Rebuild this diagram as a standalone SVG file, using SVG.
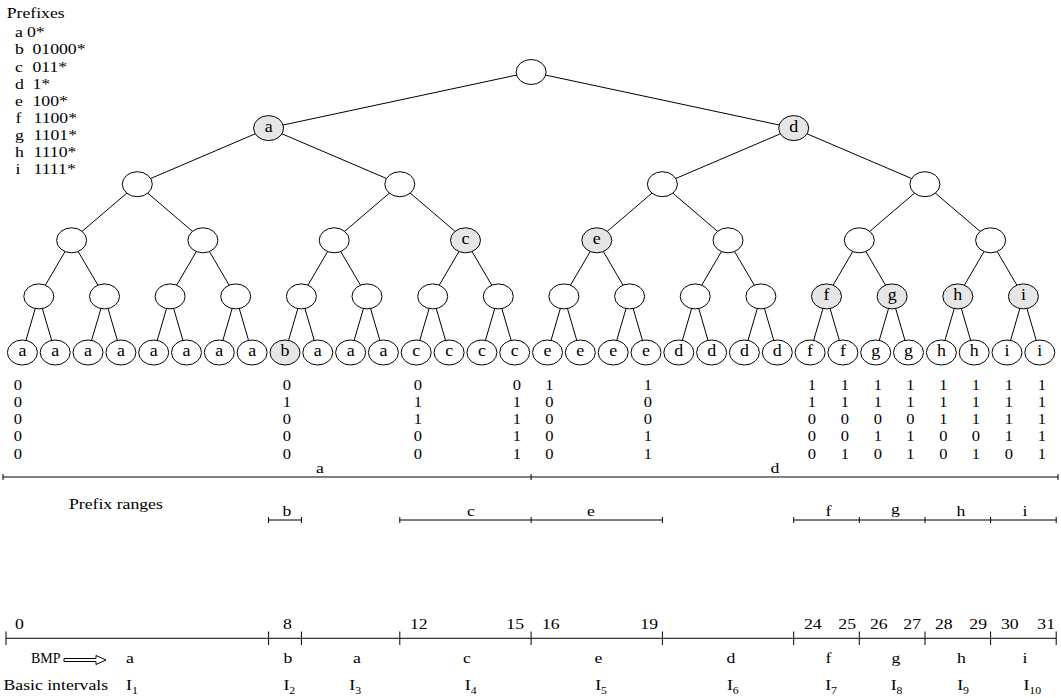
<svg xmlns="http://www.w3.org/2000/svg" width="1061" height="698" viewBox="0 0 1061 698">
<style>
.t{font-family:"Liberation Serif","Times New Roman",serif;font-size:15px;fill:#000}
.m{text-anchor:middle}
.e{text-anchor:end}
.b{font-size:14px}
.nl{font-size:16px}
.sub{font-size:10px}
.nd{fill:#fff;stroke:#000;stroke-width:1}
.nf{fill:#e6e6e6;stroke:#000;stroke-width:1}
.ln{stroke:#000;stroke-width:1;fill:none}
</style>
<rect width="1061" height="698" fill="#fff"/>

<g id="prefix-list">
<text class="t" transform="translate(6.7 18.3) scale(1.18 1)">Prefixes</text>
<text class="t" transform="translate(15 37.3) scale(1.18 1)">a</text><text class="t" transform="translate(27 37.3) scale(1.18 1)">0*</text>
<text class="t" transform="translate(15 54.4) scale(1.18 1)">b</text><text class="t" transform="translate(32.5 54.4) scale(1.18 1)">01000*</text>
<text class="t" transform="translate(15 71.5) scale(1.18 1)">c</text><text class="t" transform="translate(32.5 71.5) scale(1.18 1)">011*</text>
<text class="t" transform="translate(15 88.6) scale(1.18 1)">d</text><text class="t" transform="translate(32.5 88.6) scale(1.18 1)">1*</text>
<text class="t" transform="translate(15 105.7) scale(1.18 1)">e</text><text class="t" transform="translate(32.5 105.7) scale(1.18 1)">100*</text>
<text class="t" transform="translate(15.5 122.8) scale(1.18 1)">f</text><text class="t" transform="translate(33.5 122.8) scale(1.18 1)">1100*</text>
<text class="t" transform="translate(15 139.9) scale(1.18 1)">g</text><text class="t" transform="translate(33.5 139.9) scale(1.18 1)">1101*</text>
<text class="t" transform="translate(15 157) scale(1.18 1)">h</text><text class="t" transform="translate(33.5 157) scale(1.18 1)">1110*</text>
<text class="t" transform="translate(15.5 174.1) scale(1.18 1)">i</text><text class="t" transform="translate(33.5 174.1) scale(1.18 1)">1111*</text>
</g>

<g id="connectors" class="ln">
<line x1="531.1" y1="72" x2="268.6" y2="128.1"/>
<line x1="531.1" y1="72" x2="793.7" y2="128.1"/>
<line x1="268.6" y1="128.1" x2="137.3" y2="184.2"/>
<line x1="268.6" y1="128.1" x2="399.8" y2="184.2"/>
<line x1="793.7" y1="128.1" x2="662.4" y2="184.2"/>
<line x1="793.7" y1="128.1" x2="924.9" y2="184.2"/>
<line x1="137.3" y1="184.2" x2="71.6" y2="240.3"/>
<line x1="137.3" y1="184.2" x2="202.9" y2="240.3"/>
<line x1="399.8" y1="184.2" x2="334.2" y2="240.3"/>
<line x1="399.8" y1="184.2" x2="465.5" y2="240.3"/>
<line x1="662.4" y1="184.2" x2="596.8" y2="240.3"/>
<line x1="662.4" y1="184.2" x2="728" y2="240.3"/>
<line x1="924.9" y1="184.2" x2="859.3" y2="240.3"/>
<line x1="924.9" y1="184.2" x2="990.6" y2="240.3"/>
<line x1="71.6" y1="240.3" x2="38.8" y2="296.4"/>
<line x1="71.6" y1="240.3" x2="104.5" y2="296.4"/>
<line x1="202.9" y1="240.3" x2="170.1" y2="296.4"/>
<line x1="202.9" y1="240.3" x2="235.7" y2="296.4"/>
<line x1="334.2" y1="240.3" x2="301.4" y2="296.4"/>
<line x1="334.2" y1="240.3" x2="367" y2="296.4"/>
<line x1="465.5" y1="240.3" x2="432.7" y2="296.4"/>
<line x1="465.5" y1="240.3" x2="498.3" y2="296.4"/>
<line x1="596.8" y1="240.3" x2="563.9" y2="296.4"/>
<line x1="596.8" y1="240.3" x2="629.6" y2="296.4"/>
<line x1="728" y1="240.3" x2="695.2" y2="296.4"/>
<line x1="728" y1="240.3" x2="760.9" y2="296.4"/>
<line x1="859.3" y1="240.3" x2="826.5" y2="296.4"/>
<line x1="859.3" y1="240.3" x2="892.1" y2="296.4"/>
<line x1="990.6" y1="240.3" x2="957.8" y2="296.4"/>
<line x1="990.6" y1="240.3" x2="1023.4" y2="296.4"/>
<line x1="38.8" y1="296.4" x2="22.4" y2="352.5"/>
<line x1="38.8" y1="296.4" x2="55.2" y2="352.5"/>
<line x1="104.5" y1="296.4" x2="88" y2="352.5"/>
<line x1="104.5" y1="296.4" x2="120.9" y2="352.5"/>
<line x1="170.1" y1="296.4" x2="153.7" y2="352.5"/>
<line x1="170.1" y1="296.4" x2="186.5" y2="352.5"/>
<line x1="235.7" y1="296.4" x2="219.3" y2="352.5"/>
<line x1="235.7" y1="296.4" x2="252.1" y2="352.5"/>
<line x1="301.4" y1="296.4" x2="285" y2="352.5"/>
<line x1="301.4" y1="296.4" x2="317.8" y2="352.5"/>
<line x1="367" y1="296.4" x2="350.6" y2="352.5"/>
<line x1="367" y1="296.4" x2="383.4" y2="352.5"/>
<line x1="432.7" y1="296.4" x2="416.2" y2="352.5"/>
<line x1="432.7" y1="296.4" x2="449.1" y2="352.5"/>
<line x1="498.3" y1="296.4" x2="481.9" y2="352.5"/>
<line x1="498.3" y1="296.4" x2="514.7" y2="352.5"/>
<line x1="563.9" y1="296.4" x2="547.5" y2="352.5"/>
<line x1="563.9" y1="296.4" x2="580.3" y2="352.5"/>
<line x1="629.6" y1="296.4" x2="613.2" y2="352.5"/>
<line x1="629.6" y1="296.4" x2="646" y2="352.5"/>
<line x1="695.2" y1="296.4" x2="678.8" y2="352.5"/>
<line x1="695.2" y1="296.4" x2="711.6" y2="352.5"/>
<line x1="760.9" y1="296.4" x2="744.4" y2="352.5"/>
<line x1="760.9" y1="296.4" x2="777.3" y2="352.5"/>
<line x1="826.5" y1="296.4" x2="810.1" y2="352.5"/>
<line x1="826.5" y1="296.4" x2="842.9" y2="352.5"/>
<line x1="892.1" y1="296.4" x2="875.7" y2="352.5"/>
<line x1="892.1" y1="296.4" x2="908.5" y2="352.5"/>
<line x1="957.8" y1="296.4" x2="941.4" y2="352.5"/>
<line x1="957.8" y1="296.4" x2="974.2" y2="352.5"/>
<line x1="1023.4" y1="296.4" x2="1007" y2="352.5"/>
<line x1="1023.4" y1="296.4" x2="1039.8" y2="352.5"/>
</g>

<g id="tree-nodes">
<g id="root"><ellipse class="nd" cx="531.1" cy="72" rx="15" ry="12.5"/></g>
<g id="n1-a"><ellipse class="nf" cx="268.6" cy="128.1" rx="15" ry="12.5"/><text class="t nl m" transform="translate(268.6 132) scale(1.12 1)">a</text></g>
<g id="n1-d"><ellipse class="nf" cx="793.7" cy="128.1" rx="15" ry="12.5"/><text class="t nl m" transform="translate(793.7 132) scale(1.12 1)">d</text></g>
<g id="n2-0"><ellipse class="nd" cx="137.3" cy="184.2" rx="15" ry="12.5"/></g>
<g id="n2-1"><ellipse class="nd" cx="399.8" cy="184.2" rx="15" ry="12.5"/></g>
<g id="n2-2"><ellipse class="nd" cx="662.4" cy="184.2" rx="15" ry="12.5"/></g>
<g id="n2-3"><ellipse class="nd" cx="924.9" cy="184.2" rx="15" ry="12.5"/></g>
<g id="n3-0"><ellipse class="nd" cx="71.6" cy="240.3" rx="15" ry="12.5"/></g>
<g id="n3-1"><ellipse class="nd" cx="202.9" cy="240.3" rx="15" ry="12.5"/></g>
<g id="n3-2"><ellipse class="nd" cx="334.2" cy="240.3" rx="15" ry="12.5"/></g>
<g id="n3-c"><ellipse class="nf" cx="465.5" cy="240.3" rx="15" ry="12.5"/><text class="t nl m" transform="translate(465.5 244.2) scale(1.12 1)">c</text></g>
<g id="n3-e"><ellipse class="nf" cx="596.8" cy="240.3" rx="15" ry="12.5"/><text class="t nl m" transform="translate(596.8 244.2) scale(1.12 1)">e</text></g>
<g id="n3-5"><ellipse class="nd" cx="728" cy="240.3" rx="15" ry="12.5"/></g>
<g id="n3-6"><ellipse class="nd" cx="859.3" cy="240.3" rx="15" ry="12.5"/></g>
<g id="n3-7"><ellipse class="nd" cx="990.6" cy="240.3" rx="15" ry="12.5"/></g>
<g id="n4-0"><ellipse class="nd" cx="38.8" cy="296.4" rx="15" ry="12.5"/></g>
<g id="n4-1"><ellipse class="nd" cx="104.5" cy="296.4" rx="15" ry="12.5"/></g>
<g id="n4-2"><ellipse class="nd" cx="170.1" cy="296.4" rx="15" ry="12.5"/></g>
<g id="n4-3"><ellipse class="nd" cx="235.7" cy="296.4" rx="15" ry="12.5"/></g>
<g id="n4-4"><ellipse class="nd" cx="301.4" cy="296.4" rx="15" ry="12.5"/></g>
<g id="n4-5"><ellipse class="nd" cx="367" cy="296.4" rx="15" ry="12.5"/></g>
<g id="n4-6"><ellipse class="nd" cx="432.7" cy="296.4" rx="15" ry="12.5"/></g>
<g id="n4-7"><ellipse class="nd" cx="498.3" cy="296.4" rx="15" ry="12.5"/></g>
<g id="n4-8"><ellipse class="nd" cx="563.9" cy="296.4" rx="15" ry="12.5"/></g>
<g id="n4-9"><ellipse class="nd" cx="629.6" cy="296.4" rx="15" ry="12.5"/></g>
<g id="n4-10"><ellipse class="nd" cx="695.2" cy="296.4" rx="15" ry="12.5"/></g>
<g id="n4-11"><ellipse class="nd" cx="760.9" cy="296.4" rx="15" ry="12.5"/></g>
<g id="n4-f"><ellipse class="nf" cx="826.5" cy="296.4" rx="15" ry="12.5"/><text class="t nl m" transform="translate(826.5 300.3) scale(1.12 1)">f</text></g>
<g id="n4-g"><ellipse class="nf" cx="892.1" cy="296.4" rx="15" ry="12.5"/><text class="t nl m" transform="translate(892.1 300.3) scale(1.12 1)">g</text></g>
<g id="n4-h"><ellipse class="nf" cx="957.8" cy="296.4" rx="15" ry="12.5"/><text class="t nl m" transform="translate(957.8 300.3) scale(1.12 1)">h</text></g>
<g id="n4-i"><ellipse class="nf" cx="1023.4" cy="296.4" rx="15" ry="12.5"/><text class="t nl m" transform="translate(1023.4 300.3) scale(1.12 1)">i</text></g>
</g>

<g id="leaves">
<g id="leaf-0"><ellipse class="nd" cx="22.4" cy="352.5" rx="15" ry="12.5"/><text class="t nl m" transform="translate(22.4 356.4) scale(1.12 1)">a</text></g>
<g id="leaf-1"><ellipse class="nd" cx="55.2" cy="352.5" rx="15" ry="12.5"/><text class="t nl m" transform="translate(55.2 356.4) scale(1.12 1)">a</text></g>
<g id="leaf-2"><ellipse class="nd" cx="88" cy="352.5" rx="15" ry="12.5"/><text class="t nl m" transform="translate(88 356.4) scale(1.12 1)">a</text></g>
<g id="leaf-3"><ellipse class="nd" cx="120.9" cy="352.5" rx="15" ry="12.5"/><text class="t nl m" transform="translate(120.9 356.4) scale(1.12 1)">a</text></g>
<g id="leaf-4"><ellipse class="nd" cx="153.7" cy="352.5" rx="15" ry="12.5"/><text class="t nl m" transform="translate(153.7 356.4) scale(1.12 1)">a</text></g>
<g id="leaf-5"><ellipse class="nd" cx="186.5" cy="352.5" rx="15" ry="12.5"/><text class="t nl m" transform="translate(186.5 356.4) scale(1.12 1)">a</text></g>
<g id="leaf-6"><ellipse class="nd" cx="219.3" cy="352.5" rx="15" ry="12.5"/><text class="t nl m" transform="translate(219.3 356.4) scale(1.12 1)">a</text></g>
<g id="leaf-7"><ellipse class="nd" cx="252.1" cy="352.5" rx="15" ry="12.5"/><text class="t nl m" transform="translate(252.1 356.4) scale(1.12 1)">a</text></g>
<g id="leaf-8"><ellipse class="nf" cx="285" cy="352.5" rx="15" ry="12.5"/><text class="t nl m" transform="translate(285 356.4) scale(1.12 1)">b</text></g>
<g id="leaf-9"><ellipse class="nd" cx="317.8" cy="352.5" rx="15" ry="12.5"/><text class="t nl m" transform="translate(317.8 356.4) scale(1.12 1)">a</text></g>
<g id="leaf-10"><ellipse class="nd" cx="350.6" cy="352.5" rx="15" ry="12.5"/><text class="t nl m" transform="translate(350.6 356.4) scale(1.12 1)">a</text></g>
<g id="leaf-11"><ellipse class="nd" cx="383.4" cy="352.5" rx="15" ry="12.5"/><text class="t nl m" transform="translate(383.4 356.4) scale(1.12 1)">a</text></g>
<g id="leaf-12"><ellipse class="nd" cx="416.2" cy="352.5" rx="15" ry="12.5"/><text class="t nl m" transform="translate(416.2 356.4) scale(1.12 1)">c</text></g>
<g id="leaf-13"><ellipse class="nd" cx="449.1" cy="352.5" rx="15" ry="12.5"/><text class="t nl m" transform="translate(449.1 356.4) scale(1.12 1)">c</text></g>
<g id="leaf-14"><ellipse class="nd" cx="481.9" cy="352.5" rx="15" ry="12.5"/><text class="t nl m" transform="translate(481.9 356.4) scale(1.12 1)">c</text></g>
<g id="leaf-15"><ellipse class="nd" cx="514.7" cy="352.5" rx="15" ry="12.5"/><text class="t nl m" transform="translate(514.7 356.4) scale(1.12 1)">c</text></g>
<g id="leaf-16"><ellipse class="nd" cx="547.5" cy="352.5" rx="15" ry="12.5"/><text class="t nl m" transform="translate(547.5 356.4) scale(1.12 1)">e</text></g>
<g id="leaf-17"><ellipse class="nd" cx="580.3" cy="352.5" rx="15" ry="12.5"/><text class="t nl m" transform="translate(580.3 356.4) scale(1.12 1)">e</text></g>
<g id="leaf-18"><ellipse class="nd" cx="613.2" cy="352.5" rx="15" ry="12.5"/><text class="t nl m" transform="translate(613.2 356.4) scale(1.12 1)">e</text></g>
<g id="leaf-19"><ellipse class="nd" cx="646" cy="352.5" rx="15" ry="12.5"/><text class="t nl m" transform="translate(646 356.4) scale(1.12 1)">e</text></g>
<g id="leaf-20"><ellipse class="nd" cx="678.8" cy="352.5" rx="15" ry="12.5"/><text class="t nl m" transform="translate(678.8 356.4) scale(1.12 1)">d</text></g>
<g id="leaf-21"><ellipse class="nd" cx="711.6" cy="352.5" rx="15" ry="12.5"/><text class="t nl m" transform="translate(711.6 356.4) scale(1.12 1)">d</text></g>
<g id="leaf-22"><ellipse class="nd" cx="744.4" cy="352.5" rx="15" ry="12.5"/><text class="t nl m" transform="translate(744.4 356.4) scale(1.12 1)">d</text></g>
<g id="leaf-23"><ellipse class="nd" cx="777.3" cy="352.5" rx="15" ry="12.5"/><text class="t nl m" transform="translate(777.3 356.4) scale(1.12 1)">d</text></g>
<g id="leaf-24"><ellipse class="nd" cx="810.1" cy="352.5" rx="15" ry="12.5"/><text class="t nl m" transform="translate(810.1 356.4) scale(1.12 1)">f</text></g>
<g id="leaf-25"><ellipse class="nd" cx="842.9" cy="352.5" rx="15" ry="12.5"/><text class="t nl m" transform="translate(842.9 356.4) scale(1.12 1)">f</text></g>
<g id="leaf-26"><ellipse class="nd" cx="875.7" cy="352.5" rx="15" ry="12.5"/><text class="t nl m" transform="translate(875.7 356.4) scale(1.12 1)">g</text></g>
<g id="leaf-27"><ellipse class="nd" cx="908.5" cy="352.5" rx="15" ry="12.5"/><text class="t nl m" transform="translate(908.5 356.4) scale(1.12 1)">g</text></g>
<g id="leaf-28"><ellipse class="nd" cx="941.4" cy="352.5" rx="15" ry="12.5"/><text class="t nl m" transform="translate(941.4 356.4) scale(1.12 1)">h</text></g>
<g id="leaf-29"><ellipse class="nd" cx="974.2" cy="352.5" rx="15" ry="12.5"/><text class="t nl m" transform="translate(974.2 356.4) scale(1.12 1)">h</text></g>
<g id="leaf-30"><ellipse class="nd" cx="1007" cy="352.5" rx="15" ry="12.5"/><text class="t nl m" transform="translate(1007 356.4) scale(1.12 1)">i</text></g>
<g id="leaf-31"><ellipse class="nd" cx="1039.8" cy="352.5" rx="15" ry="12.5"/><text class="t nl m" transform="translate(1039.8 356.4) scale(1.12 1)">i</text></g>
</g>

<g id="bits">
<text class="t b m" transform="translate(18 389.5) scale(1.18 1)"><tspan x="0" y="0">0</tspan><tspan x="0" y="17.3">0</tspan><tspan x="0" y="34.6">0</tspan><tspan x="0" y="51.9">0</tspan><tspan x="0" y="69.2">0</tspan></text>
<text class="t b m" transform="translate(287 389.5) scale(1.18 1)"><tspan x="0" y="0">0</tspan><tspan x="0" y="17.3">1</tspan><tspan x="0" y="34.6">0</tspan><tspan x="0" y="51.9">0</tspan><tspan x="0" y="69.2">0</tspan></text>
<text class="t b m" transform="translate(418 389.5) scale(1.18 1)"><tspan x="0" y="0">0</tspan><tspan x="0" y="17.3">1</tspan><tspan x="0" y="34.6">1</tspan><tspan x="0" y="51.9">0</tspan><tspan x="0" y="69.2">0</tspan></text>
<text class="t b m" transform="translate(517 389.5) scale(1.18 1)"><tspan x="0" y="0">0</tspan><tspan x="0" y="17.3">1</tspan><tspan x="0" y="34.6">1</tspan><tspan x="0" y="51.9">1</tspan><tspan x="0" y="69.2">1</tspan></text>
<text class="t b m" transform="translate(549.5 389.5) scale(1.18 1)"><tspan x="0" y="0">1</tspan><tspan x="0" y="17.3">0</tspan><tspan x="0" y="34.6">0</tspan><tspan x="0" y="51.9">0</tspan><tspan x="0" y="69.2">0</tspan></text>
<text class="t b m" transform="translate(648 389.5) scale(1.18 1)"><tspan x="0" y="0">1</tspan><tspan x="0" y="17.3">0</tspan><tspan x="0" y="34.6">0</tspan><tspan x="0" y="51.9">1</tspan><tspan x="0" y="69.2">1</tspan></text>
<text class="t b m" transform="translate(812 389.5) scale(1.18 1)"><tspan x="0" y="0">1</tspan><tspan x="0" y="17.3">1</tspan><tspan x="0" y="34.6">0</tspan><tspan x="0" y="51.9">0</tspan><tspan x="0" y="69.2">0</tspan></text>
<text class="t b m" transform="translate(845 389.5) scale(1.18 1)"><tspan x="0" y="0">1</tspan><tspan x="0" y="17.3">1</tspan><tspan x="0" y="34.6">0</tspan><tspan x="0" y="51.9">0</tspan><tspan x="0" y="69.2">1</tspan></text>
<text class="t b m" transform="translate(878 389.5) scale(1.18 1)"><tspan x="0" y="0">1</tspan><tspan x="0" y="17.3">1</tspan><tspan x="0" y="34.6">0</tspan><tspan x="0" y="51.9">1</tspan><tspan x="0" y="69.2">0</tspan></text>
<text class="t b m" transform="translate(910.5 389.5) scale(1.18 1)"><tspan x="0" y="0">1</tspan><tspan x="0" y="17.3">1</tspan><tspan x="0" y="34.6">0</tspan><tspan x="0" y="51.9">1</tspan><tspan x="0" y="69.2">1</tspan></text>
<text class="t b m" transform="translate(943.5 389.5) scale(1.18 1)"><tspan x="0" y="0">1</tspan><tspan x="0" y="17.3">1</tspan><tspan x="0" y="34.6">1</tspan><tspan x="0" y="51.9">0</tspan><tspan x="0" y="69.2">0</tspan></text>
<text class="t b m" transform="translate(976 389.5) scale(1.18 1)"><tspan x="0" y="0">1</tspan><tspan x="0" y="17.3">1</tspan><tspan x="0" y="34.6">1</tspan><tspan x="0" y="51.9">0</tspan><tspan x="0" y="69.2">1</tspan></text>
<text class="t b m" transform="translate(1009 389.5) scale(1.18 1)"><tspan x="0" y="0">1</tspan><tspan x="0" y="17.3">1</tspan><tspan x="0" y="34.6">1</tspan><tspan x="0" y="51.9">1</tspan><tspan x="0" y="69.2">0</tspan></text>
<text class="t b m" transform="translate(1042 389.5) scale(1.18 1)"><tspan x="0" y="0">1</tspan><tspan x="0" y="17.3">1</tspan><tspan x="0" y="34.6">1</tspan><tspan x="0" y="51.9">1</tspan><tspan x="0" y="69.2">1</tspan></text>
</g>

<g id="ad-range">
<path class="ln" d="M3,477H1058M3,474V480M531.1,474V480M1058,474V480"/>
<text class="t m" transform="translate(320 473) scale(1.18 1)">a</text>
<text class="t m" transform="translate(775 473) scale(1.18 1)">d</text>
</g>

<g id="prefix-ranges">
<text class="t" transform="translate(69 509) scale(1.18 1)">Prefix ranges</text>
<path class="ln" d="M268.6,520H301.4M268.6,517V523M301.4,517V523M399.8,520H662.4M399.8,517V523M531.1,517V523M662.4,517V523M793.7,520H1056.2M793.7,517V523M859.3,517V523M925,517V523M990.6,517V523M1056.2,517V523"/>
<text class="t m" transform="translate(287 516) scale(1.18 1)">b</text>
<text class="t m" transform="translate(471 516) scale(1.18 1)">c</text>
<text class="t m" transform="translate(591 516) scale(1.18 1)">e</text>
<text class="t m" transform="translate(828.5 516) scale(1.18 1)">f</text>
<text class="t m" transform="translate(895.5 513.5) scale(1.18 1)">g</text>
<text class="t m" transform="translate(961 516) scale(1.18 1)">h</text>
<text class="t m" transform="translate(1025 516) scale(1.18 1)">i</text>
</g>

<g id="number-line">
<path class="ln" d="M6,638.3H1056.2M6,631.5V645M268.6,631.5V645M301.4,631.5V645M399.8,631.5V645M531.1,631.5V645M662.4,631.5V645M793.7,631.5V645M859.3,631.5V645M925,631.5V645M990.6,631.5V645M1056.2,631.5V645"/>
<text class="t" transform="translate(15 629) scale(1.18 1)">0</text>
<text class="t" transform="translate(283 629) scale(1.18 1)">8</text>
<text class="t" transform="translate(410 629) scale(1.18 1)">12</text>
<text class="t e" transform="translate(524 629) scale(1.18 1)">15</text>
<text class="t" transform="translate(542 629) scale(1.18 1)">16</text>
<text class="t e" transform="translate(658 629) scale(1.18 1)">19</text>
<text class="t" transform="translate(804 629) scale(1.18 1)">24</text>
<text class="t e" transform="translate(856 629) scale(1.18 1)">25</text>
<text class="t" transform="translate(870 629) scale(1.18 1)">26</text>
<text class="t e" transform="translate(921 629) scale(1.18 1)">27</text>
<text class="t" transform="translate(935 629) scale(1.18 1)">28</text>
<text class="t e" transform="translate(987 629) scale(1.18 1)">29</text>
<text class="t" transform="translate(1001 629) scale(1.18 1)">30</text>
<text class="t e" transform="translate(1055 629) scale(1.18 1)">31</text>
</g>

<g id="bmp-row">
<text class="t" style="font-size:14px" x="31" y="663">BMP</text>
<polygon class="ln" style="fill:#fff" points="64,658.5 96,658.5 96,655.5 106,660 96,664.5 96,661.5 64,661.5"/>
<text class="t m" transform="translate(130 663) scale(1.18 1)">a</text>
<text class="t m" transform="translate(288 663) scale(1.18 1)">b</text>
<text class="t m" transform="translate(357 663) scale(1.18 1)">a</text>
<text class="t m" transform="translate(467 663) scale(1.18 1)">c</text>
<text class="t m" transform="translate(598.5 663) scale(1.18 1)">e</text>
<text class="t m" transform="translate(731 663) scale(1.18 1)">d</text>
<text class="t m" transform="translate(828.5 663) scale(1.18 1)">f</text>
<text class="t m" transform="translate(896 663) scale(1.18 1)">g</text>
<text class="t m" transform="translate(961.5 663) scale(1.18 1)">h</text>
<text class="t m" transform="translate(1025 663) scale(1.18 1)">i</text>
</g>

<g id="basic-intervals">
<text class="t" transform="translate(3.5 690) scale(1.18 1)">Basic intervals</text>
<text class="t" transform="translate(126 690) scale(1.18 1)">I<tspan class="sub" dy="4">1</tspan></text>
<text class="t" transform="translate(283.4 690) scale(1.18 1)">I<tspan class="sub" dy="4">2</tspan></text>
<text class="t" transform="translate(349.3 690) scale(1.18 1)">I<tspan class="sub" dy="4">3</tspan></text>
<text class="t" transform="translate(464.8 690) scale(1.18 1)">I<tspan class="sub" dy="4">4</tspan></text>
<text class="t" transform="translate(595.2 690) scale(1.18 1)">I<tspan class="sub" dy="4">5</tspan></text>
<text class="t" transform="translate(726.9 690) scale(1.18 1)">I<tspan class="sub" dy="4">6</tspan></text>
<text class="t" transform="translate(825.2 690) scale(1.18 1)">I<tspan class="sub" dy="4">7</tspan></text>
<text class="t" transform="translate(890.7 690) scale(1.18 1)">I<tspan class="sub" dy="4">8</tspan></text>
<text class="t" transform="translate(957.2 690) scale(1.18 1)">I<tspan class="sub" dy="4">9</tspan></text>
<text class="t" transform="translate(1023.4 690) scale(1.18 1)">I<tspan class="sub" dy="4">10</tspan></text>
</g>
</svg>
